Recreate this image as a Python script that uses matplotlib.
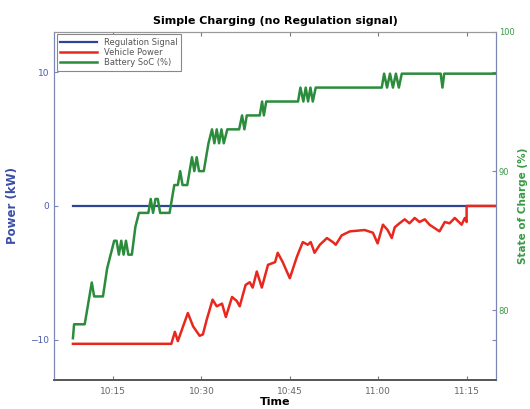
import numpy as np
import matplotlib
matplotlib.use("Agg")
import matplotlib.pyplot as plt

# ── Data (minutes after 10:00) ───────────────────────────────
reg_t = [8.2, 80.0]
reg_p = [0.0, 0.0]

veh_t = [8.2, 24.9, 25.5, 26.0, 27.7, 28.6, 29.7, 30.25, 30.9, 31.9, 32.6, 33.5,
         34.15, 35.2, 36.0, 36.5, 37.5, 38.2, 38.7, 39.4, 40.25, 41.3, 42.5,
         42.95, 43.8, 45.0, 46.2, 47.2, 48.05, 48.55, 49.2, 50.1, 51.3, 52.3,
         52.8, 53.8, 55.2, 57.7, 59.1, 59.9, 60.8, 61.6, 62.3, 62.8, 63.6,
         64.5, 65.3, 66.2, 67.0, 67.9, 68.7, 70.4, 71.3, 72.1, 73.0, 74.15,
         74.7, 75.0, 75.0, 80.0]
veh_p = [-10.3, -10.3, -9.4, -10.1, -8.0, -9.0, -9.7, -9.6, -8.5, -7.0, -7.5,
         -7.3, -8.3, -6.8, -7.1, -7.5, -5.9, -5.7, -6.1, -4.9, -6.1, -4.4, -4.2,
         -3.5, -4.2, -5.4, -3.8, -2.7, -2.9, -2.7, -3.5, -2.9, -2.4, -2.7, -2.9,
         -2.2, -1.9, -1.8, -2.0, -2.8, -1.4, -1.8, -2.4, -1.6, -1.3, -1.0, -1.3,
         -0.9, -1.2, -1.0, -1.4, -1.9, -1.2, -1.3, -0.9, -1.4, -0.9, -1.2, 0.0,
         0.0]

soc_t = [8.2, 8.4, 10.2, 11.0, 11.4, 11.8, 13.3, 14.0, 14.6, 15.2, 15.6, 16.0,
         16.4, 16.8, 17.2, 17.6, 18.2, 18.8, 19.4, 21.0, 21.4, 21.8, 22.2,
         22.6, 23.0, 24.6, 25.4, 26.0, 26.4, 26.8, 27.6, 28.0, 28.4, 28.8,
         29.2, 29.6, 30.4, 31.2, 31.8, 32.2, 32.6, 33.0, 33.4, 33.8, 34.4,
         36.4, 36.9, 37.3, 37.7, 39.9, 40.3, 40.6, 41.0, 46.4, 46.8, 47.3,
         47.7, 48.1, 48.5, 48.9, 49.4, 60.6, 61.0, 61.5, 62.0, 62.5, 63.0,
         63.5, 64.0, 70.6, 70.9, 71.2, 80.0]
soc_v = [78.0, 79.0, 79.0, 81.0, 82.0, 81.0, 81.0, 83.0, 84.0, 85.0, 85.0, 84.0,
         85.0, 84.0, 85.0, 84.0, 84.0, 86.0, 87.0, 87.0, 88.0, 87.0, 88.0,
         88.0, 87.0, 87.0, 89.0, 89.0, 90.0, 89.0, 89.0, 90.0, 91.0, 90.0,
         91.0, 90.0, 90.0, 92.0, 93.0, 92.0, 93.0, 92.0, 93.0, 92.0, 93.0,
         93.0, 94.0, 93.0, 94.0, 94.0, 95.0, 94.0, 95.0, 95.0, 96.0, 95.0,
         96.0, 95.0, 96.0, 95.0, 96.0, 96.0, 97.0, 96.0, 97.0, 96.0, 97.0,
         96.0, 97.0, 97.0, 96.0, 97.0, 97.0]

time_ticks = [15, 30, 45, 60, 75]
time_labels = ["10:15", "10:30", "10:45", "11:00", "11:15"]

BLUE = "#2e4496"
RED = "#e8281e"
GREEN = "#2b8c3c"
AXIS = "#7a86b4"

fig = plt.figure(figsize=(5.3, 4.09), dpi=100)
ax = fig.add_axes([0.102, 0.071, 0.834, 0.851])
ax2 = ax.twinx()

l1, = ax.plot(reg_t, reg_p, color=BLUE, lw=1.6, label="Regulation Signal")
l2, = ax.plot(veh_t, veh_p, color=RED, lw=1.8, label="Vehicle Power")
l3, = ax2.plot(soc_t, soc_v, color=GREEN, lw=1.8, label="Battery SoC (%)")

ax.set_xlim(5, 80)
ax.set_ylim(-13, 13)
ax2.set_ylim(75, 100)

ax.set_xticks(time_ticks)
ax.set_xticklabels(time_labels)
ax.set_yticks([-10, 0, 10])
ax2.set_yticks([80, 90, 100])

ax.tick_params(axis="x", direction="in", top=True, length=3, labelsize=6.5,
               labelcolor="#666666", color="#777777", pad=5)
ax.tick_params(axis="y", direction="in", right=True, length=3, labelsize=6.5,
               labelcolor="#4a5aa8", color=AXIS)
ax2.tick_params(axis="y", direction="in", length=3, labelsize=6,
                labelcolor="#3a9a46", color=AXIS, pad=2)

for a in (ax, ax2):
    for side in ("left", "right"):
        a.spines[side].set_color(AXIS)
    a.spines["top"].set_color("#999999")
    a.spines["bottom"].set_color("#555555")
    a.spines["bottom"].set_linewidth(1.2)

ax.set_xlabel("Time", fontsize=8, fontweight="bold", labelpad=1)
ax.set_ylabel("Power (kW)", fontsize=8.5, fontweight="bold", color="#3a4ea6",
              labelpad=8)
ax2.set_ylabel("State of Charge (%)", fontsize=7.5, fontweight="bold",
               color="#3a9a46")
ax2.yaxis.set_label_coords(1.05, 0.5)
ax.set_title("Simple Charging (no Regulation signal)", fontsize=8,
             fontweight="bold", pad=6)

leg = ax.legend(handles=[l1, l2, l3], loc="upper left", fontsize=6,
                handlelength=4.5, borderpad=0.4, labelspacing=0.15,
                fancybox=False, framealpha=1, borderaxespad=0.3)
leg.get_frame().set_edgecolor("#888888")
leg.get_frame().set_linewidth(0.8)
for t in leg.get_texts():
    t.set_color("#555555")

fig.savefig("out.png", dpi=100)
